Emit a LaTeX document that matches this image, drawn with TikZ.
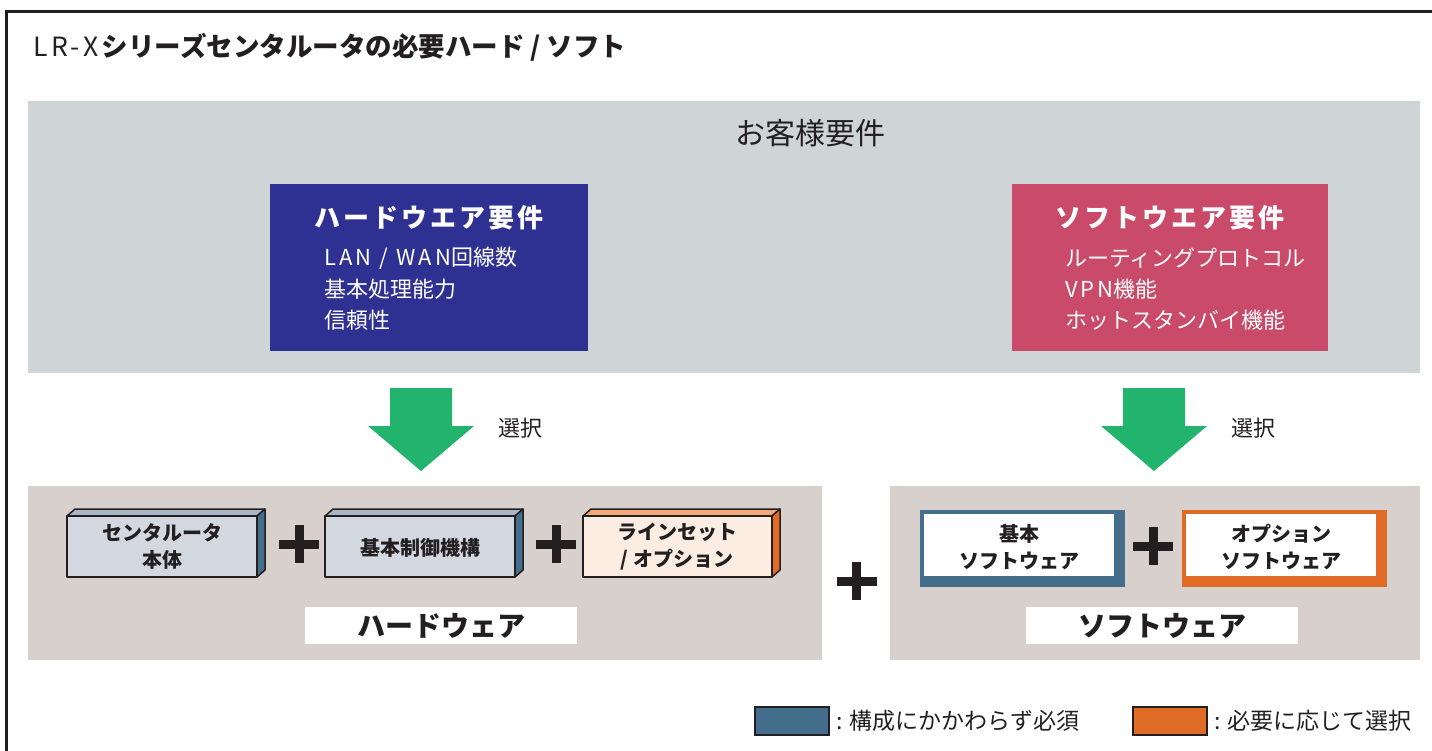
\documentclass[tikz,border=0pt]{standalone}
\usepackage{fontspec}
\setmainfont{Noto Sans CJK JP}
\definecolor{inkdark}{HTML}{231F20}
\definecolor{needgray}{HTML}{CFD4D7}
\definecolor{hwblue}{HTML}{2E3192}
\definecolor{swred}{HTML}{C94A69}
\definecolor{selgreen}{HTML}{22B36C}
\definecolor{partgray}{HTML}{D8D0CD}
\definecolor{steelblue}{HTML}{436F8D}
\definecolor{optorange}{HTML}{E06B26}
\definecolor{hwfront}{HTML}{D3D7E0}
\definecolor{hwtop}{HTML}{A9B6C5}
\definecolor{optfront}{HTML}{FBEDE1}
\definecolor{opttop}{HTML}{F3A87A}
\tikzset{
  txt/.style={inner sep=0pt, text=inkdark},
  reqtitle/.style={inner sep=0pt, text=white, font=\bfseries\fontsize{26}{28}\selectfont\addfontfeature{LetterSpace=12}},
  reqitem/.style={inner sep=0pt, anchor=west, text=white, font=\fontsize{22}{24}\selectfont},
  partname/.style={inner sep=0pt, align=center, text=inkdark, font=\bfseries\fontsize{20}{27}\selectfont},
  facebox/.style={draw=inkdark, line width=1.5pt, line join=round},
  plusbar/.style={inkdark, line width=9pt},
  grouplabel/.style={fill=white, minimum width=272pt, minimum height=37pt, text=inkdark, font=\bfseries\fontsize{28}{30}\selectfont},
  swatch/.style={draw=inkdark, line width=1.5pt}
}
\newcommand{\wide}[1]{{\addfontfeature{LetterSpace=14}#1}}
\begin{document}
\begin{tikzpicture}[x=1pt,y=-1pt]
\useasboundingbox (0,0) rectangle (1432,750);
% frame
\draw[inkdark, line width=3pt] (6.5,760) |- (1440,11.5);
\node[txt, anchor=west] (title) at (33,47) {\fontsize{26.5}{28}\selectfont \wide{LR-X}\textbf{シリーズセンタルータの必要ハード / ソフト}};

% customer requirements
\fill[needgray] (28,101) rectangle (1420,373);
\node[txt] (needs) at (810,133) {\fontsize{30}{32}\selectfont お客様要件};
\fill[hwblue] (270,184) rectangle (588,351);
\node[reqtitle] (hwreq) at (429,218) {ハードウエア要件};
\node[reqitem] (hwline) at (324,258) {\wide{LAN / WAN}回線数};
\node[reqitem] (hwcpu) at (324,289) {基本処理能力};
\node[reqitem] (hwrel) at (324,320) {信頼性};
\fill[swred] (1012,184) rectangle (1328,351);
\node[reqtitle] (swreq) at (1170,218) {ソフトウエア要件};
\node[reqitem] (swroute) at (1065,258) {ルーティングプロトコル};
\node[reqitem] (swvpn) at (1065,289) {\wide{VPN}機能};
\node[reqitem] (swhot) at (1065,320) {ホットスタンバイ機能};

% selection arrows
\coordinate (hwtip) at (421,471);
\coordinate (swtip) at (1154,471);
\fill[selgreen] (hwtip) -- ++(53,-45) -- ++(-22,0) -- ++(0,-38) -- ++(-62,0) -- ++(0,38) -- ++(-22,0) -- cycle;
\fill[selgreen] (swtip) -- ++(53,-45) -- ++(-22,0) -- ++(0,-38) -- ++(-62,0) -- ++(0,38) -- ++(-22,0) -- cycle;
\node[txt] (hwsel) at (520,428) {\fontsize{22}{24}\selectfont 選択};
\node[txt] (swsel) at (1253,428) {\fontsize{22}{24}\selectfont 選択};

% hardware
\fill[partgray] (28,486) rectangle (822,660);
\draw[facebox, fill=hwtop] (67,516) -- (75,509) -- (265,509) -- (257,516) -- cycle;
\draw[facebox, fill=steelblue] (257,516) -- (265,509) -- (265,570) -- (257,577) -- cycle;
\draw[facebox, fill=hwfront] (67,516) rectangle (257,577);
\node[partname] (body) at (162,546) {センタルータ\\本体};
\draw[facebox, fill=hwtop] (325,516) -- (333,509) -- (523,509) -- (515,516) -- cycle;
\draw[facebox, fill=steelblue] (515,516) -- (523,509) -- (523,570) -- (515,577) -- cycle;
\draw[facebox, fill=hwfront] (325,516) rectangle (515,577);
\node[partname] (ctrl) at (420,548) {基本制御機構};
\draw[facebox, fill=opttop] (583,516) -- (591,509) -- (780,509) -- (772,516) -- cycle;
\draw[facebox, fill=optorange] (772,516) -- (780,509) -- (780,570) -- (772,577) -- cycle;
\draw[facebox, fill=optfront] (583,516) rectangle (772,577);
\node[partname] (lineset) at (677,547) {ラインセット\\/ オプション};
\coordinate (hwplusa) at (299,544);
\coordinate (hwplusb) at (556,544);
\draw[plusbar] (hwplusa) ++(-20,0) -- ++(40,0) (hwplusa) ++(0,-19) -- ++(0,38);
\draw[plusbar] (hwplusb) ++(-20,0) -- ++(40,0) (hwplusb) ++(0,-19) -- ++(0,38);
\node[grouplabel] (hwgroup) at (441,625.5) {ハードウェア};

\coordinate (midplus) at (856.5,581);
\draw[plusbar] (midplus) ++(-20,0) -- ++(40,0) (midplus) ++(0,-19) -- ++(0,38);

% software
\fill[partgray] (890,486) rectangle (1420,660);
\fill[steelblue] (920,510) rectangle (1125,587);
\fill[white] (924,514) rectangle (1114,576);
\node[partname] (swbase) at (1019,547) {基本\\ソフトウェア};
\fill[optorange] (1182,510) rectangle (1387,587);
\fill[white] (1186,514) rectangle (1376,576);
\node[partname] (swopt) at (1281,547) {オプション\\ソフトウェア};
\coordinate (swplus) at (1153,546);
\draw[plusbar] (swplus) ++(-20,0) -- ++(40,0) (swplus) ++(0,-19) -- ++(0,38);
\node[grouplabel] (swgroup) at (1162,625.5) {ソフトウェア};

% legend
\draw[swatch, fill=steelblue] (755,707) rectangle (829,735);
\node[txt, anchor=west] (must) at (836,721) {\fontsize{23}{25}\selectfont : 構成にかかわらず必須};
\draw[swatch, fill=optorange] (1133,707) rectangle (1207,735);
\node[txt, anchor=west] (asneed) at (1214,721) {\fontsize{23}{25}\selectfont : 必要に応じて選択};
\end{tikzpicture}
\end{document}
